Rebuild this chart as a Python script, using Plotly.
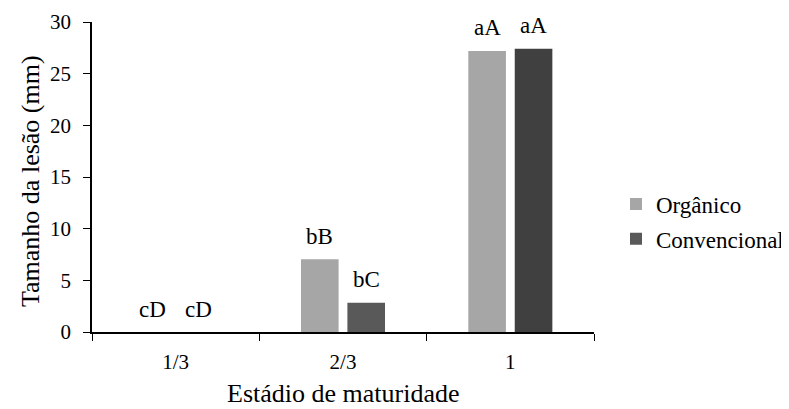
import plotly.graph_objects as go

categories = ["1/3", "2/3", "1"]
organico = [0, 7.04, 27.2]
convencional = [0, 2.84, 27.4]
organico_labels = ["cD", "bB", "aA"]
convencional_labels = ["cD", "bC", "aA"]
y_ticks = [0, 5, 10, 15, 20, 25, 30]

# the page body has an 8px margin, so the figure is shifted by 8px
OFF = 8
W, H = 789 - OFF, 409 - OFF
L, R, T, B = 92 - OFF, 195, 22 - OFF, 77
bargap = 0.445
bargroupgap = 0.19
FONT = "Liberation Serif"
PW, PH = W - L - R, H - T - B


def f(size):
    return dict(family=FONT, size=size, color="black")


def px_x(x):  # window px -> paper x
    return (x - OFF - L) / PW


def px_y(y):  # window px -> paper y
    return (T + PH - (y - OFF)) / PH


fig = go.Figure()
fig.add_trace(go.Bar(name="Orgânico", x=categories, y=organico, legendgroup="o",
                     marker=dict(color="#a6a6a6", line=dict(width=0))))
fig.add_trace(go.Bar(name="Convencional", x=categories, y=convencional, legendgroup="c",
                     marker=dict(color=["#595959", "#595959", "#404040"], line=dict(width=0))))

cat_px = PW / len(categories)
offset = cat_px * (1 - bargap) / 4
for i, (v, t) in enumerate(zip(organico, organico_labels)):
    fig.add_annotation(x=i, y=v, xref="x", yref="y", text=t, showarrow=False,
                       xshift=-offset, yshift=23, yanchor="middle", font=f(23))
for i, (v, t) in enumerate(zip(convencional, convencional_labels)):
    fig.add_annotation(x=i, y=v, xref="x", yref="y", text=t, showarrow=False,
                       xshift=offset, yshift=23, yanchor="middle", font=f(23))

# axis titles
fig.add_annotation(x=0.5, y=px_y(393), xref="paper", yref="paper",
                   text="Estádio de maturidade", showarrow=False,
                   xanchor="center", yanchor="middle", font=f(26))
fig.add_annotation(x=px_x(30), y=px_y(181), xref="paper", yref="paper",
                   text="Tamanho da lesão (mm)", showarrow=False, textangle=-90,
                   xanchor="center", yanchor="middle", font=f(26))

fig.update_layout(
    width=W, height=H,
    margin=dict(l=L, r=R, t=T, b=B, autoexpand=False),
    paper_bgcolor="white", plot_bgcolor="white",
    barmode="group", bargap=bargap, bargroupgap=bargroupgap,
    font=f(21),
    showlegend=True,
    legend=dict(x=px_x(616), y=px_y(221.5), xanchor="left", yanchor="middle",
                font=f(23), tracegroupgap=2, itemwidth=30, bgcolor="rgba(0,0,0,0)"),
)
fig.update_xaxes(
    type="category", automargin=False,
    showline=True, linecolor="black", linewidth=1.5,
    ticks="outside", tickson="boundaries", ticklen=7, tickcolor="black",
    tickfont=f(21), showgrid=False, ticklabelstandoff=10,
)
fig.update_yaxes(
    range=[0, 30], tickvals=y_ticks, automargin=False,
    showline=True, linecolor="black", linewidth=1.5,
    ticks="outside", ticklen=7, tickcolor="black",
    tickfont=f(21), showgrid=False, zeroline=False,
    ticklabelstandoff=8,
)

fig.write_html("out.html")
